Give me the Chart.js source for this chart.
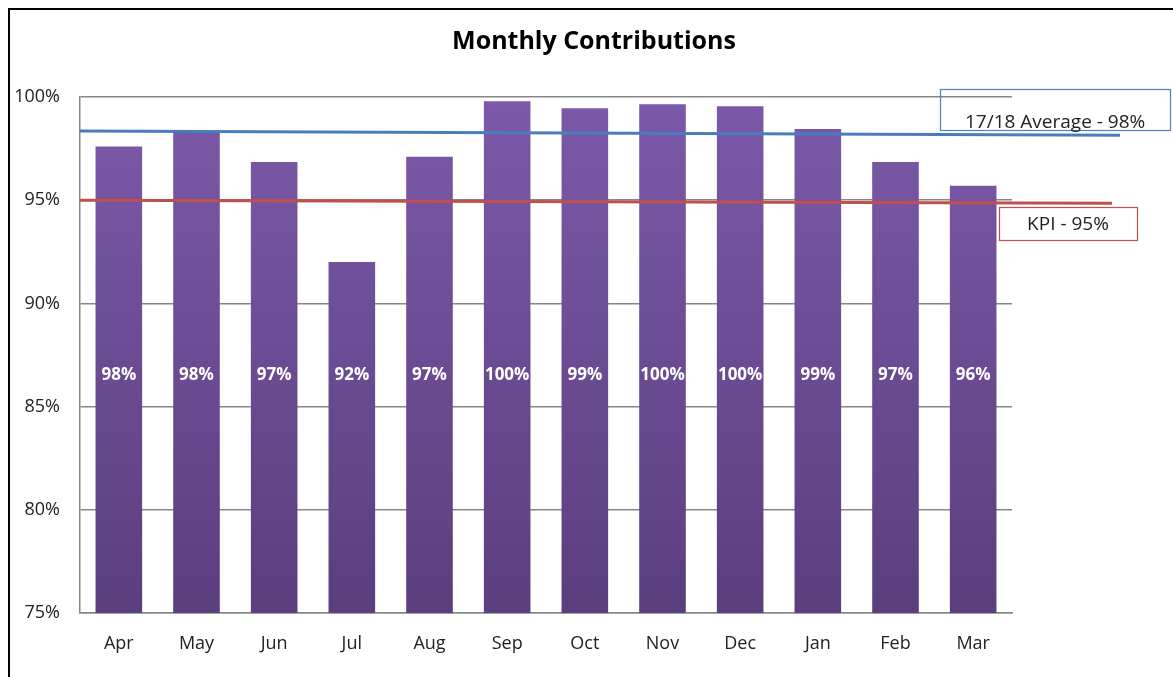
<!DOCTYPE html>
<html>
<head>
<meta charset="utf-8">
<script src="https://cdn.jsdelivr.net/npm/chart.js@4"></script>
<style>
  html, body { margin: 0; padding: 0; background: #fff; }
  #wrap { width: 1173px; height: 677px; }
</style>
</head>
<body>
<div id="wrap"><canvas id="contribChart" width="1173" height="677"></canvas></div>
<script>
const months = ['Apr', 'May', 'Jun', 'Jul', 'Aug', 'Sep', 'Oct', 'Nov', 'Dec', 'Jan', 'Feb', 'Mar'];
const contributions = [97.6, 98.3, 96.85, 92.0, 97.1, 99.8, 99.45, 99.65, 99.55, 98.45, 96.85, 95.7];
const barLabels = ['98%', '98%', '97%', '92%', '97%', '100%', '99%', '100%', '100%', '99%', '97%', '96%'];
const yTicks = [75, 80, 85, 90, 95, 100];
const averageLine = [98.35, 98.15];  // start, end
const kpiLine = [95.0, 94.85];       // start, end
const averageText = '17/18 Average - 98%';
const kpiText = 'KPI - 95%';
const chartTitle = 'Monthly Contributions';
const labelLevel = 86.5;

const font = "'Open Sans', 'Liberation Sans', sans-serif";

const frame = {
  id: 'frame',
  beforeDraw(chart) {
    const c = chart.ctx;
    c.save();
    c.fillStyle = '#fff';
    c.fillRect(0, 0, chart.width, chart.height);
    c.strokeStyle = '#000';
    c.lineWidth = 2;
    c.beginPath();
    c.moveTo(9, chart.height);
    c.lineTo(9, 9);
    c.lineTo(chart.width, 9);
    c.stroke();
    c.fillStyle = '#000';
    c.font = `bold 25px ${font}`;
    c.textAlign = 'center';
    c.textBaseline = 'middle';
    c.fillText(chartTitle, 594, 42);
    c.restore();
  }
};

const extras = {
  id: 'extras',
  afterDatasetsDraw(chart) {
    const c = chart.ctx;
    const y = chart.scales.y;
    const x = chart.scales.x;
    const area = chart.chartArea;
    c.save();

    // bar value labels
    c.fillStyle = '#fff';
    c.font = `bold 17px ${font}`;
    c.textAlign = 'center';
    c.textBaseline = 'middle';
    barLabels.forEach((t, i) => {
      c.fillText(t, x.getPixelForValue(i), y.getPixelForValue(labelLevel));
    });

    // reference lines
    const drawLine = (vals, color, extend) => {
      c.strokeStyle = color;
      c.lineWidth = 3;
      c.beginPath();
      c.moveTo(area.left, y.getPixelForValue(vals[0]));
      c.lineTo(area.right + extend, y.getPixelForValue(vals[1]));
      c.stroke();
    };
    drawLine(averageLine, '#4a7ebb', 108);
    drawLine(kpiLine, '#c0504d', 100);

    // annotation boxes
    c.lineWidth = 1.2;
    c.font = `19px ${font}`;
    c.fillStyle = '#222';
    c.textAlign = 'left';
    c.textBaseline = 'alphabetic';
    c.strokeStyle = '#4f81bd';
    c.strokeRect(area.right - 71.5, 89.5, 230, 41);
    c.fillText(averageText, area.right - 47, 128);

    c.strokeStyle = '#c0504d';
    c.strokeRect(area.right - 12.5, 207.5, 138, 33);
    c.textAlign = 'center';
    c.textBaseline = 'middle';
    c.fillText(kpiText, area.right + 56, 225);
    c.restore();
  }
};

new Chart(document.getElementById('contribChart'), {
  type: 'bar',
  data: {
    labels: months,
    datasets: [{
      data: contributions,
      backgroundColor(ctx) {
        const area = ctx.chart.chartArea;
        if (!area) return '#6b4c96';
        const g = ctx.chart.ctx.createLinearGradient(0, area.top, 0, area.bottom);
        g.addColorStop(0, '#7c59a9');
        g.addColorStop(1, '#5b3e7e');
        return g;
      },
      borderWidth: 0,
      barPercentage: 0.6,
      categoryPercentage: 1.0
    }]
  },
  options: {
    responsive: false,
    animation: false,
    layout: { padding: { left: 0, right: 161, top: 97, bottom: 0 } },
    plugins: {
      legend: { display: false },
      tooltip: { enabled: false },
      title: { display: false }
    },
    scales: {
      x: {
        grid: { display: false },
        border: { color: '#868686', width: 1.5 },
        ticks: { color: '#222', font: { family: font, size: 18 }, padding: 12 },
        afterFit(s) { s.height = 64; }
      },
      y: {
        min: 75,
        max: 100,
        afterBuildTicks(s) { s.ticks = yTicks.map(v => ({ value: v })); },
        ticks: {
          color: '#222',
          font: { family: font, size: 18 },
          padding: 20,
          callback: v => v + '%'
        },
        grid: { color: '#868686', lineWidth: 1.5, drawTicks: false },
        border: { color: '#868686', width: 1.5 },
        afterFit(s) { s.width = 80; }
      }
    }
  },
  plugins: [frame, extras]
});
</script>
</body>
</html>
